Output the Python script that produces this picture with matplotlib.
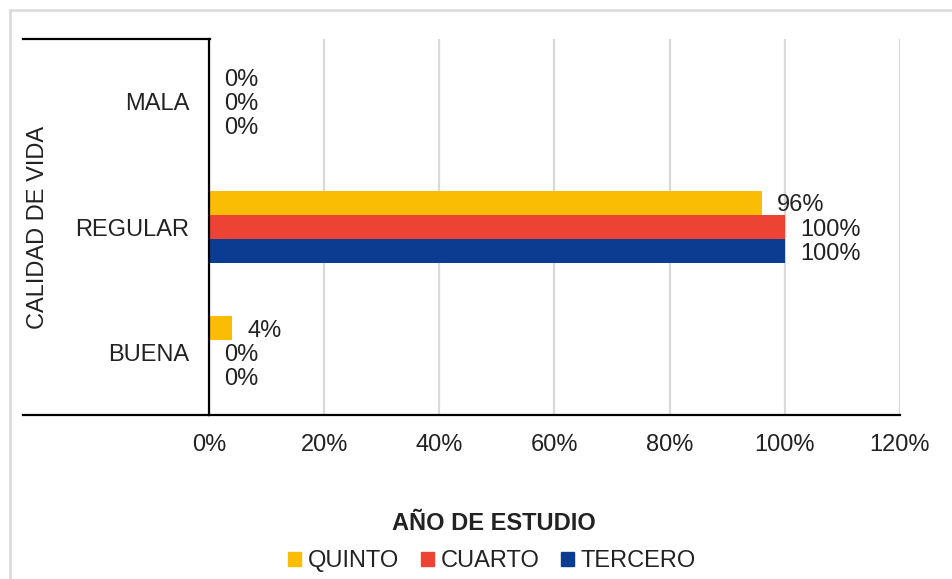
import matplotlib.pyplot as plt
import matplotlib.patches as mpatches
from matplotlib.lines import Line2D
import numpy as np

plt.rcParams['font.family'] = ['Liberation Sans', 'DejaVu Sans']

# Data
categories = ['BUENA', 'REGULAR', 'MALA']
quinto = [4, 96, 0]
cuarto = [0, 100, 0]
tercero = [0, 100, 0]
series_names = ['QUINTO', 'CUARTO', 'TERCERO']
colors = ['#FBBC04', '#EC4335', '#0C3C91']
x_ticks = [0, 20, 40, 60, 80, 100, 120]

fs = 17
fig = plt.figure(figsize=(9.53, 5.79), dpi=100)
ax = fig.add_axes([209 / 953, 1 - 415 / 579, 691 / 953, 376 / 579])

y = np.arange(len(categories))
h = 0.194
offsets = [h, 0, -h]
for vals, off, col in zip([quinto, cuarto, tercero], offsets, colors):
    ax.barh(y + off, vals, height=h, color=col, zorder=3)
    for yi, v in zip(y, vals):
        ax.text(v + 2.6, yi + off, f"{v}%", va='center_baseline', ha='left',
                fontsize=fs, color='#222222', zorder=4)

ax.set_xlim(0, 120)
ax.set_ylim(-0.5, 2.5)
ax.set_xticks(x_ticks)
ax.set_xticklabels([f"{t}%" for t in x_ticks])
ax.set_yticks(y)
ax.set_yticklabels(categories)
ax.tick_params(axis='both', length=0, labelsize=fs, colors='#222222')
ax.tick_params(axis='x', pad=14)
ax.tick_params(axis='y', pad=14)
ax.grid(axis='x', color='#d9d9d9', linewidth=1.6, zorder=0)
for s in ['top', 'right']:
    ax.spines[s].set_visible(False)
ax.spines['left'].set_linewidth(1.6)
ax.spines['bottom'].set_linewidth(1.6)
ax.spines['left'].set_zorder(5)

# frame lines extending to the left
fig.add_artist(Line2D([23 / 953, 210 / 953], [1 - 39 / 579, 1 - 39 / 579],
                      color='black', linewidth=1.6))
fig.add_artist(Line2D([23 / 953, 209 / 953], [1 - 415 / 579, 1 - 415 / 579],
                      color='black', linewidth=1.6))
# light outer border
fig.add_artist(Line2D([10 / 953, 1], [1 - 10 / 579, 1 - 10 / 579],
                      color='#d9d9d9', linewidth=1.8))
fig.add_artist(Line2D([10 / 953, 10 / 953], [0, 1 - 10 / 579],
                      color='#d9d9d9', linewidth=1.8))

fig.text(38 / 953, 1 - 227 / 579, 'CALIDAD DE VIDA', rotation=90,
         ha='center', va='center', fontsize=fs, color='#222222')
fig.text(494 / 953, 1 - 524 / 579, 'AÑO DE ESTUDIO', ha='center', va='center',
         fontsize=fs, fontweight='bold', color='#222222')

handles = [mpatches.Patch(color=c, label=n) for c, n in zip(colors, series_names)]
fig.legend(handles=handles, loc='center', bbox_to_anchor=(492 / 953, 1 - 561 / 579),
           ncol=3, frameon=False, fontsize=fs, handlelength=0.55, handleheight=0.55,
           handletextpad=0.3, columnspacing=0.9, labelcolor='#222222')

fig.savefig('out.png', dpi=100)
